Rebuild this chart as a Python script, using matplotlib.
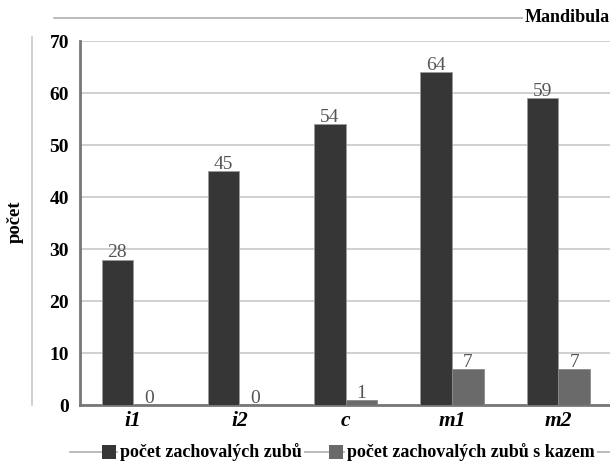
import numpy as np
import matplotlib.pyplot as plt
from matplotlib.lines import Line2D
from matplotlib.patches import Rectangle

# data
zuby = ["i1", "i2", "c", "m1", "m2"]
zachovale = [28, 45, 54, 64, 59]
s_kazem = [0, 0, 1, 7, 7]
serie = ["počet zachovalých zubů", "počet zachovalých zubů s kazem"]
barvy = ["#363636", "#6a6a6a"]

plt.rcParams['font.family'] = ['Liberation Serif', 'DejaVu Serif']

W, H = 610, 466
fig = plt.figure(figsize=(W / 100, H / 100), dpi=100)
ax = fig.add_axes([80 / W, (H - 405.3) / H, 531.5 / W, (405.3 - 41) / H])

x = np.arange(len(zuby))
w = 0.297
b1 = ax.bar(x - w, zachovale, w, align='edge', color=barvy[0],
            edgecolor="#9a9a9a", linewidth=0.6, zorder=3)
b2 = ax.bar(x, s_kazem, w, align='edge', color=barvy[1],
            edgecolor="#8a8a8a", linewidth=0.6, zorder=3)

# value labels sitting on the bar tops
for bars, vals in ((b1, zachovale), (b2, s_kazem)):
    for r, v in zip(bars, vals):
        ax.text(r.get_x() + r.get_width() / 2, v - 0.35, str(v),
                ha='center', va='bottom', fontsize=14, color="#555555", zorder=4)

ax.set_xlim(-0.5, 4.5)
ax.set_ylim(0, 70)
ax.set_yticks(range(0, 71, 10))
ax.set_xticks(x)
ax.set_xticklabels(zuby, fontsize=15.5, fontweight='bold', fontstyle='italic')
for t in ax.get_yticklabels():
    t.set_fontsize(14)
    t.set_fontweight('bold')
ax.tick_params(length=0, pad=8)
ax.tick_params(axis='x', pad=4)
ax.yaxis.grid(True, color="#c8c8c8", linewidth=1.2, zorder=0)
ax.set_axisbelow(True)
for s in ("top", "right"):
    ax.spines[s].set_visible(False)
ax.spines["left"].set_color("#777777")
ax.spines["left"].set_linewidth(2)
ax.spines["bottom"].set_color("#777777")
ax.spines["bottom"].set_linewidth(2)

# y label with its side line
fig.text(15 / W, 1 - 222 / H, "počet", rotation=90, ha='center', va='center',
         fontsize=13.5, fontweight='bold')
fig.add_artist(Line2D([32 / W, 32 / W], [1 - 37 / H, 1 - 405 / H],
                      color="#c8c8c8", linewidth=1.2))

# title line
fig.add_artist(Line2D([54 / W, 1.0], [1 - 18 / H, 1 - 18 / H],
                      color="#b0b0b0", linewidth=1.2, zorder=1))
fig.text(1.0, 1 - 18 / H, "Mandibula", ha='right', va='center', fontsize=13,
         fontweight='bold', bbox=dict(facecolor='white', edgecolor='none', pad=1.5),
         zorder=2)

# legend drawn along a line
ly = 1 - 452 / H
fig.add_artist(Line2D([70 / W, 1.0], [ly, ly], color="#b0b0b0",
                      linewidth=1.2, zorder=1))
for x0, lab, c in ((102, serie[0], barvy[0]), (329, serie[1], barvy[1])):
    fig.add_artist(Rectangle((x0 / W, ly - 7 / H), 14 / W, 14 / H,
                             facecolor=c, edgecolor='none', zorder=3))
    fig.text((x0 + 18) / W, ly, lab, ha='left', va='center', fontsize=13,
             fontweight='bold',
             bbox=dict(facecolor='white', edgecolor='none', pad=1.5), zorder=2)

fig.savefig("out.png", dpi=100)
